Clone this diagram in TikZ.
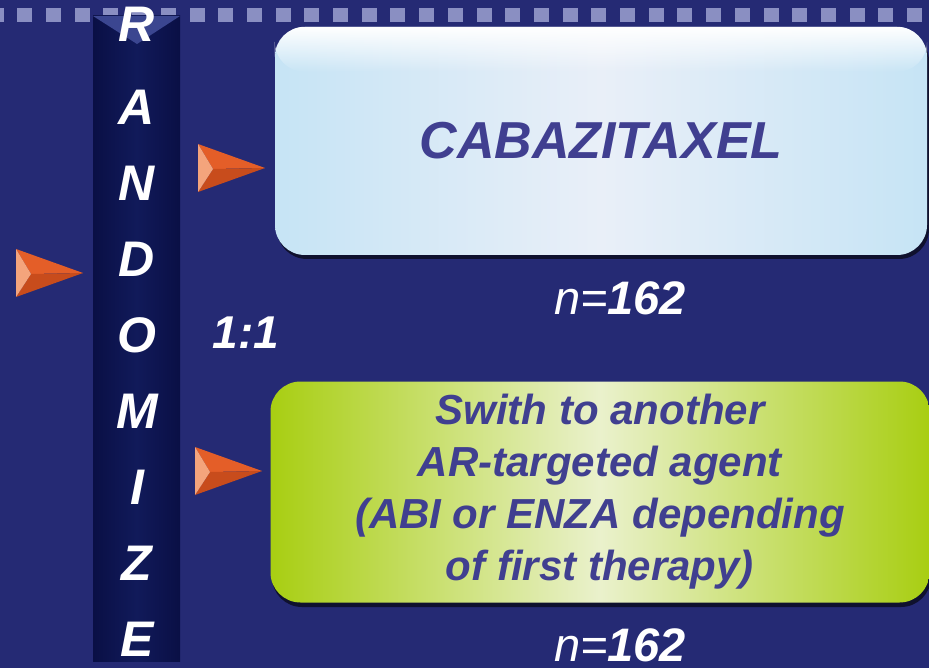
\documentclass[tikz,border=0pt]{standalone}
\usepackage{fontspec}
\setmainfont{Liberation Sans}
\usetikzlibrary{fadings}

\definecolor{bgblue}{HTML}{252A74}
\definecolor{barnavy}{HTML}{111A5A}
\definecolor{baredge}{HTML}{0A0F45}
\definecolor{barbevel}{HTML}{3B4690}
\definecolor{dotgray}{HTML}{8A8FC2}
\definecolor{boxtext}{HTML}{403F90}
\definecolor{paleblue}{HTML}{C6E4F5}
\definecolor{midblue}{HTML}{E9EFF8}
\definecolor{limegreen}{HTML}{A8CE12}
\definecolor{palelime}{HTML}{EAF1CC}
\definecolor{facetlight}{HTML}{F4A47C}
\definecolor{facetmid}{HTML}{E45E28}
\definecolor{facetdark}{HTML}{C84C1C}

\begin{document}
\begin{tikzpicture}[x=1pt,y=-1pt,
  barletter/.style={text=white,font=\fontsize{50}{50}\selectfont\bfseries\itshape,inner sep=0pt},
  armbox/.style={rounded corners=30pt,inner sep=0pt,text=boxtext,align=center},
  countlabel/.style={text=white,font=\fontsize{47}{47}\selectfont,inner sep=0pt},
  pointer/.pic={
    \fill[facetmid] (-67,-24) -- (0,0) -- (-52,1) -- cycle;
    \fill[facetdark] (-67,24) -- (-52,1) -- (0,0) -- cycle;
    \fill[facetlight] (-67,-24) -- (-52,1) -- (-67,24) -- cycle;
  }]
\fill[bgblue] (0,0) rectangle (929,668);
\useasboundingbox (0,0) rectangle (929,668);

% dotted strip along the top
\foreach \k in {0,...,32}
  \fill[dotgray] (-11.4+28.7*\k,8) rectangle ++(15,14);

% randomize bar
\shade[left color=baredge,right color=baredge,middle color=barnavy] (93,16) rectangle (180,661);
\fill[barbevel] (93,16) -- (180,16) -- (137,44) -- cycle;
\foreach \ltr/\yy in {R/24,A/107,N/183,D/259,O/335,M/411,I/487,Z/563,E/639}
  \node[barletter] (let\ltr) at (137,\yy) {\ltr};

% arms
\fill[black!60!bgblue,rounded corners=30pt] (277,31) rectangle (929,259);
\node[armbox,minimum width=652pt,minimum height=228pt,
  left color=paleblue,right color=paleblue,middle color=midblue,
  font=\fontsize{52}{52}\selectfont\bfseries\itshape] (cabazi) at (601,141) {CABAZITAXEL};
\fill[white,path fading=south,rounded corners=30pt] (cabazi.north west) rectangle ([yshift=-45pt]cabazi.north east);
\fill[black!60!bgblue,rounded corners=30pt] (272,386) rectangle (931,607);
\node[armbox,minimum width=659pt,minimum height=221pt,
  left color=limegreen,right color=limegreen,middle color=palelime,
  font=\fontsize{42}{52}\selectfont\bfseries\itshape] (switch) at (600,492) {Swith to another\\AR-targeted agent\\(ABI or ENZA depending\\of first therapy)};

% sample sizes and ratio
\node[countlabel] (ncabazi) at (620,298) {\itshape n={\bfseries 162}};
\node[countlabel] (nswitch) at (620,645) {\itshape n={\bfseries 162}};
\node[barletter,font=\fontsize{46}{46}\selectfont\bfseries\itshape] (ratio) at (246,333) {1:1};

% pointers
\pic at (83,273) {pointer};
\pic at (265,168) {pointer};
\pic at (262,471) {pointer};
\end{tikzpicture}
\end{document}
